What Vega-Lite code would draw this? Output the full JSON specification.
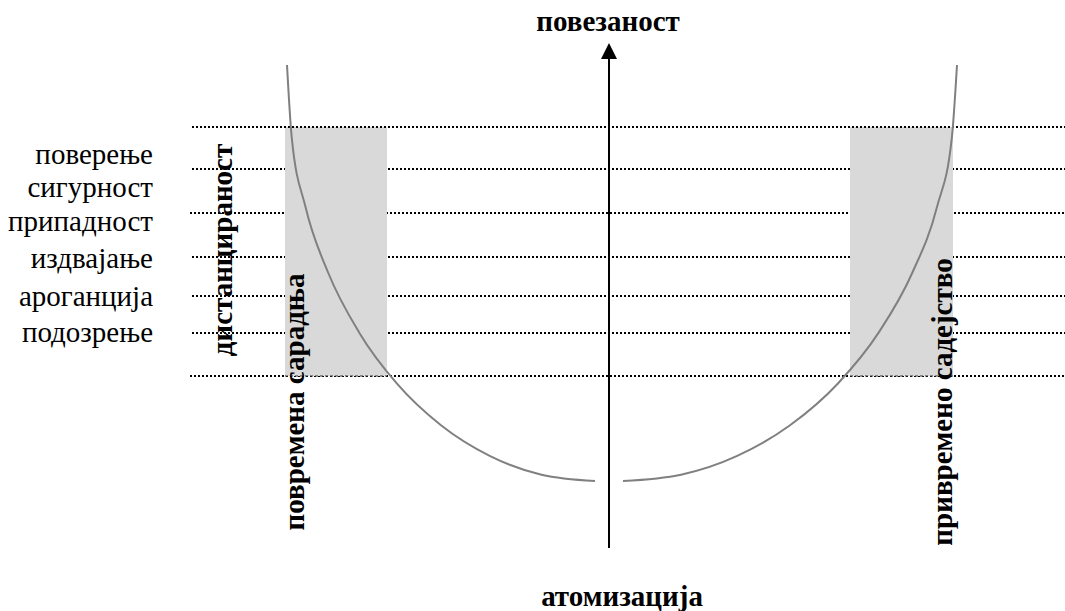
{
  "$schema": "https://vega.github.io/schema/vega-lite/v6.json",
  "width": 1065,
  "height": 611,
  "autosize": {"type": "none"},
  "padding": 0,
  "background": "white",
  "config": {"view": {"stroke": null}},
  "datasets": {
    "levels": [
      {"level": 1, "y": 127, "xs": 192, "xe": 1065},
      {"level": 2, "y": 169, "xs": 192, "xe": 1065},
      {"level": 3, "y": 213, "xs": 190, "xe": 1065},
      {"level": 4, "y": 257, "xs": 192, "xe": 1065},
      {"level": 5, "y": 296, "xs": 192, "xe": 1065},
      {"level": 6, "y": 333, "xs": 192, "xe": 1065},
      {"level": 7, "y": 376, "xs": 190, "xe": 1065}
    ],
    "zones": [
      {"zone": "left", "xs": 285, "xe": 387, "ys": 127, "ye": 376},
      {"zone": "right", "xs": 850, "xe": 953, "ys": 127, "ye": 376}
    ],
    "curve": [
      {"branch": "left", "ord": 0, "x": 287, "y": 65},
      {"branch": "left", "ord": 1, "x": 291.7, "y": 137.2},
      {"branch": "left", "ord": 2, "x": 305.6, "y": 207.3},
      {"branch": "left", "ord": 3, "x": 328.3, "y": 273},
      {"branch": "left", "ord": 4, "x": 359.1, "y": 332.4},
      {"branch": "left", "ord": 5, "x": 397, "y": 383.7},
      {"branch": "left", "ord": 6, "x": 441, "y": 425.3},
      {"branch": "left", "ord": 7, "x": 489.7, "y": 455.9},
      {"branch": "left", "ord": 8, "x": 541.5, "y": 474.7},
      {"branch": "left", "ord": 9, "x": 595, "y": 481},
      {"branch": "right", "ord": 0, "x": 623, "y": 481},
      {"branch": "right", "ord": 1, "x": 681, "y": 474.7},
      {"branch": "right", "ord": 2, "x": 737.2, "y": 455.9},
      {"branch": "right", "ord": 3, "x": 790, "y": 425.3},
      {"branch": "right", "ord": 4, "x": 837.7, "y": 383.7},
      {"branch": "right", "ord": 5, "x": 878.8, "y": 332.4},
      {"branch": "right", "ord": 6, "x": 912.2, "y": 273},
      {"branch": "right", "ord": 7, "x": 936.9, "y": 207.3},
      {"branch": "right", "ord": 8, "x": 951.9, "y": 137.2},
      {"branch": "right", "ord": 9, "x": 957, "y": 65}
    ],
    "axisline": [{"x": 609, "ys": 58, "ye": 548}],
    "arrow": [{"x": 609, "y": 51}],
    "labels": [
      {"label": "поверење", "x": 153, "y": 155},
      {"label": "сигурност", "x": 153, "y": 188},
      {"label": "припадност", "x": 153, "y": 222},
      {"label": "издвајање", "x": 153, "y": 259},
      {"label": "ароганција", "x": 153, "y": 297},
      {"label": "подозрење", "x": 153, "y": 333}
    ],
    "titles": [
      {"label": "повезаност", "x": 608, "y": 22},
      {"label": "атомизација", "x": 622, "y": 597}
    ],
    "vtitles": [
      {"label": "дистанцираност", "x": 223, "y": 250},
      {"label": "повремена сарадња", "x": 295, "y": 402},
      {"label": "привремено садејство", "x": 943, "y": 402}
    ]
  },
  "layer": [
    {
      "data": {"name": "levels"},
      "mark": {"type": "rule", "color": "black", "strokeWidth": 2, "strokeDash": [2, 2]},
      "encoding": {
        "x": {"field": "xs", "type": "quantitative", "scale": {"domain": [0, 1065], "nice": false, "zero": false}, "axis": null},
        "x2": {"field": "xe"},
        "y": {"field": "y", "type": "quantitative", "scale": {"domain": [0, 611], "nice": false, "zero": false, "reverse": true}, "axis": null}
      }
    },
    {
      "data": {"name": "zones"},
      "mark": {"type": "rect", "color": "#d9d9d9"},
      "encoding": {
        "x": {"field": "xs", "type": "quantitative", "axis": null},
        "x2": {"field": "xe"},
        "y": {"field": "ys", "type": "quantitative", "axis": null},
        "y2": {"field": "ye"}
      }
    },
    {
      "data": {"name": "levels"},
      "transform": [{"filter": "datum.level == 1"}],
      "mark": {"type": "rule", "color": "black", "strokeWidth": 2, "strokeDash": [2, 2]},
      "encoding": {
        "x": {"field": "xs", "type": "quantitative", "axis": null},
        "x2": {"field": "xe"},
        "y": {"field": "y", "type": "quantitative", "axis": null}
      }
    },
    {
      "data": {"name": "zones"},
      "mark": {"type": "rule", "color": "#333333", "strokeWidth": 1, "strokeDash": [3, 2]},
      "encoding": {
        "x": {"field": "xs", "type": "quantitative", "axis": null},
        "x2": {"field": "xe"},
        "y": {"field": "ye", "type": "quantitative", "axis": null}
      }
    },
    {
      "data": {"name": "curve"},
      "mark": {"type": "line", "color": "#808080", "strokeWidth": 2, "interpolate": "monotone"},
      "encoding": {
        "x": {"field": "x", "type": "quantitative", "axis": null},
        "y": {"field": "y", "type": "quantitative", "axis": null},
        "detail": {"field": "branch", "type": "nominal"},
        "order": {"field": "ord", "type": "quantitative"}
      }
    },
    {
      "data": {"name": "axisline"},
      "mark": {"type": "rule", "color": "black", "strokeWidth": 2},
      "encoding": {
        "x": {"field": "x", "type": "quantitative", "axis": null},
        "y": {"field": "ys", "type": "quantitative", "axis": null},
        "y2": {"field": "ye"}
      }
    },
    {
      "data": {"name": "arrow"},
      "mark": {"type": "point", "shape": "M0,-0.5L0.5,0.5L-0.5,0.5Z", "filled": true, "color": "black", "opacity": 1, "size": 1024},
      "encoding": {
        "x": {"field": "x", "type": "quantitative", "axis": null},
        "y": {"field": "y", "type": "quantitative", "axis": null}
      }
    },
    {
      "data": {"name": "labels"},
      "mark": {"type": "text", "font": "Liberation Serif, Times New Roman, serif", "fontSize": 29, "align": "right", "baseline": "middle", "color": "black"},
      "encoding": {
        "x": {"field": "x", "type": "quantitative", "axis": null},
        "y": {"field": "y", "type": "quantitative", "axis": null},
        "text": {"field": "label"}
      }
    },
    {
      "data": {"name": "titles"},
      "mark": {"type": "text", "font": "Liberation Serif, Times New Roman, serif", "fontSize": 29, "fontWeight": "bold", "align": "center", "baseline": "middle", "color": "black"},
      "encoding": {
        "x": {"field": "x", "type": "quantitative", "axis": null},
        "y": {"field": "y", "type": "quantitative", "axis": null},
        "text": {"field": "label"}
      }
    },
    {
      "data": {"name": "vtitles"},
      "mark": {"type": "text", "font": "Liberation Serif, Times New Roman, serif", "fontSize": 29, "fontWeight": "bold", "align": "center", "baseline": "middle", "angle": 270, "color": "black"},
      "encoding": {
        "x": {"field": "x", "type": "quantitative", "axis": null},
        "y": {"field": "y", "type": "quantitative", "axis": null},
        "text": {"field": "label"}
      }
    }
  ]
}
